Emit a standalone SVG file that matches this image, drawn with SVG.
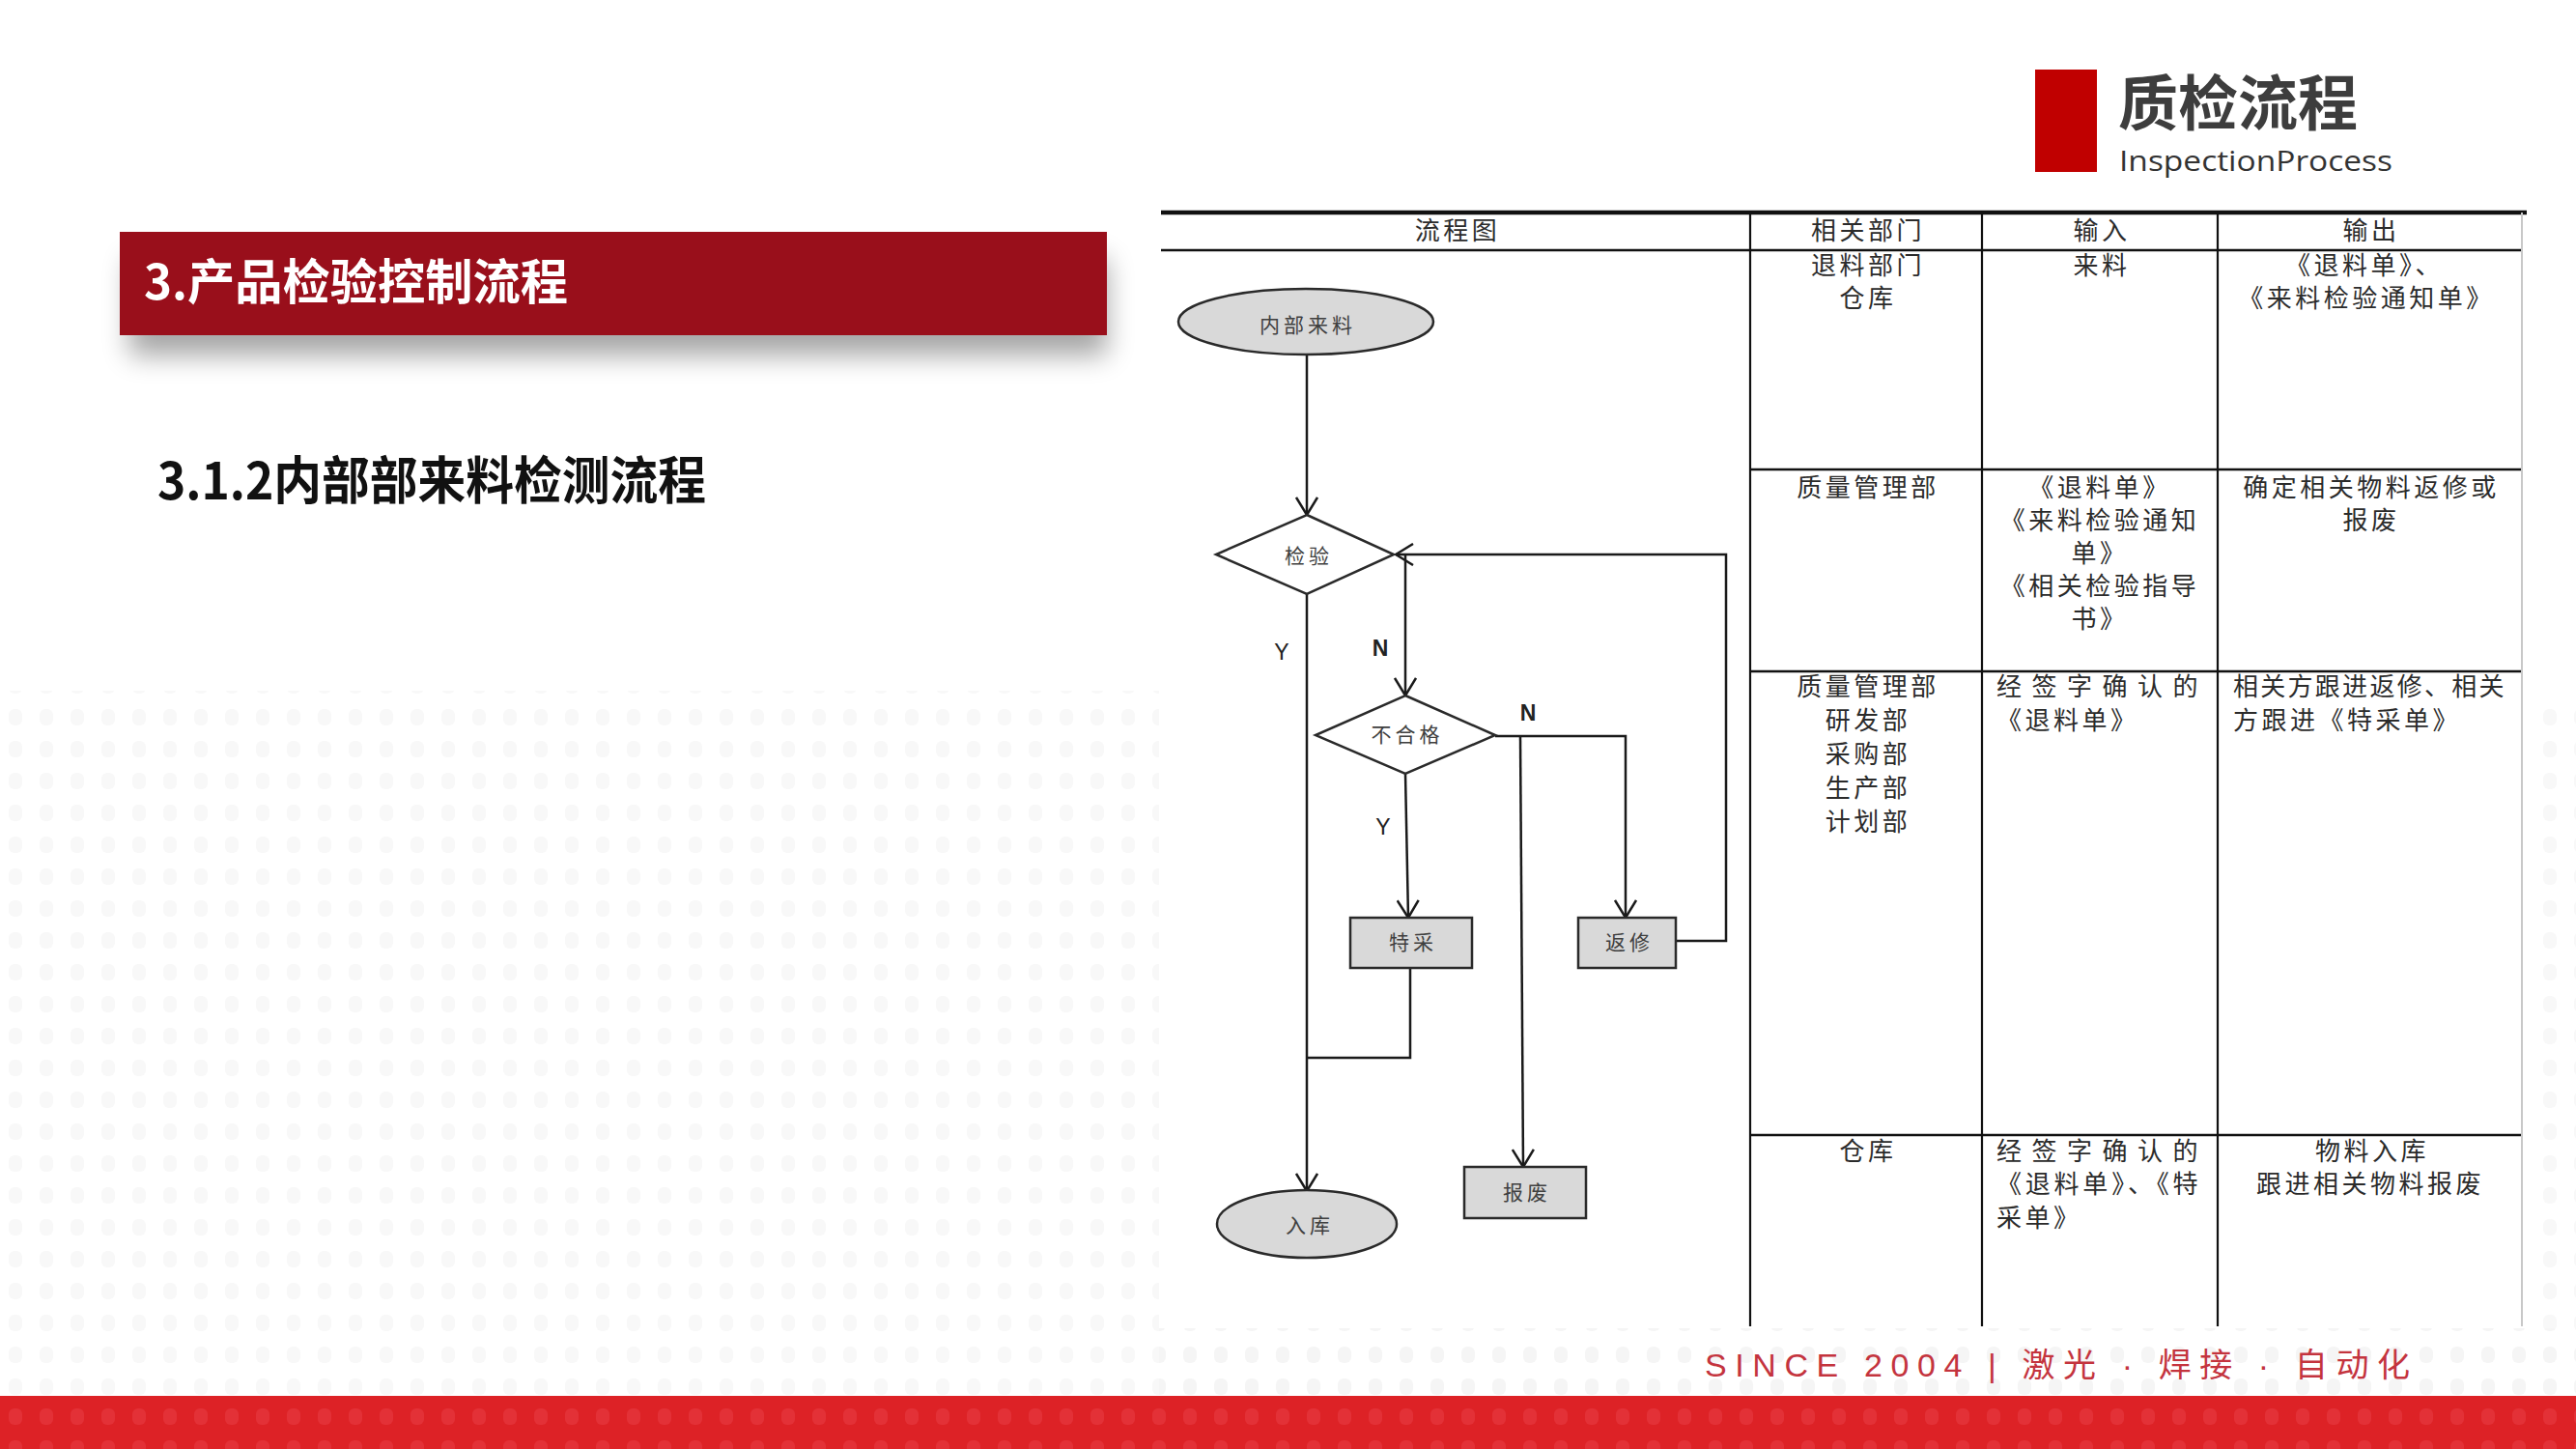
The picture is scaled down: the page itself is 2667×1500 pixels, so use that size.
<svg xmlns="http://www.w3.org/2000/svg" width="2667" height="1500" viewBox="0 0 2667 1500">
<style>
.tb{font-family:"Noto Sans CJK SC","Noto Sans",sans-serif;font-size:26px;fill:#2b2b2b;letter-spacing:3.5px}
.nd{font-family:"Noto Sans CJK SC","Noto Sans",sans-serif;font-size:21px;fill:#404040;letter-spacing:4px;text-anchor:middle}
.c{text-anchor:middle}
.gl{stroke:#111;stroke-width:2.5}
.con{stroke:#1a1a1a;stroke-width:2.5;fill:none}
.shape{stroke:#2a2a2a;stroke-width:2.5}
.lbl{font-family:"Liberation Sans",Arial,sans-serif;font-size:23px;fill:#222;text-anchor:middle}
</style>
<defs>
<marker id="arr" viewBox="0 0 20 24" refX="19" refY="12" markerWidth="20" markerHeight="24" markerUnits="userSpaceOnUse" orient="auto">
<path d="M1,1 L19,12 L1,23" fill="none" stroke="#1a1a1a" stroke-width="2.5"/>
</marker>
<pattern id="dots" x="0" y="0" width="32" height="33" patternUnits="userSpaceOnUse">
<rect x="9" y="8" width="14" height="17" rx="6" fill="#f3f3f3"/>
</pattern>
<pattern id="rdots" x="0" y="0" width="32" height="33" patternUnits="userSpaceOnUse">
<rect x="9" y="6" width="14" height="17" rx="6" fill="#e84048"/>
</pattern>
<filter id="sh" x="-10%" y="-30%" width="120%" height="180%">
<feGaussianBlur stdDeviation="14"/>
</filter>
</defs>
<rect width="2667" height="1500" fill="#ffffff"/>
<g id="background">
<rect x="0" y="715" width="1200" height="730" fill="url(#dots)" opacity="0.6"/>
<rect x="1200" y="1375" width="1467" height="70" fill="url(#dots)" opacity="0.8"/>
<rect x="2625" y="720" width="42" height="655" fill="url(#dots)" opacity="0.6"/>
<rect x="0" y="1445" width="2667" height="55" fill="#dd2226"/>
<rect x="0" y="1445" width="2667" height="55" fill="url(#rdots)" opacity="0.5"/>
<text x="1765" y="1425" font-family="'Liberation Sans','Noto Sans CJK SC',sans-serif" font-size="34" fill="#c4343e" textLength="730" lengthAdjust="spacing">SINCE 2004 | 激光 · 焊接 · 自动化</text>
</g>
<g id="page-title">
<rect x="2107" y="72" width="64" height="106" fill="#c00000"/>
<text x="2193" y="130" font-family="'Noto Sans CJK SC',sans-serif" font-size="62" font-weight="bold" fill="#3d3d3d">质检流程</text>
<text x="2194" y="177" font-family="'Open Sans','Noto Sans',sans-serif" font-size="30" fill="#333" textLength="283" lengthAdjust="spacingAndGlyphs">InspectionProcess</text>
</g>
<g id="section-banner">
<rect x="134" y="268" width="1012" height="100" fill="#000" opacity="0.35" filter="url(#sh)"/>
<rect x="124" y="240" width="1022" height="107" fill="#990f1b"/>
<text x="149" y="310" font-family="'Noto Sans CJK SC',sans-serif" font-size="50" font-weight="bold" fill="#ffffff" textLength="439" lengthAdjust="spacingAndGlyphs">3.产品检验控制流程</text>
</g>
<g id="subtitle">
<text x="163" y="517" font-family="'Noto Sans CJK SC',sans-serif" font-size="53" font-weight="bold" fill="#111" textLength="568" lengthAdjust="spacingAndGlyphs">3.1.2内部部来料检测流程</text>
</g>
<g id="table">
<rect x="1202" y="220" width="1414" height="1153" fill="#fff"/>
<line x1="1202" y1="220" x2="2616" y2="220" stroke="#111" stroke-width="4.5"/>
<line x1="1202" y1="259" x2="2611" y2="259" class="gl"/>
<line x1="1812" y1="486" x2="2611" y2="486" class="gl"/>
<line x1="1812" y1="695" x2="2611" y2="695" class="gl"/>
<line x1="1812" y1="1175" x2="2611" y2="1175" class="gl"/>
<line x1="1812" y1="220" x2="1812" y2="1373" stroke="#111" stroke-width="2.2"/>
<line x1="2052" y1="220" x2="2052" y2="1373" stroke="#111" stroke-width="2.2"/>
<line x1="2296" y1="220" x2="2296" y2="1373" stroke="#111" stroke-width="2.2"/>
<line x1="2611" y1="220" x2="2611" y2="1373" stroke="#c8c8c8" stroke-width="2"/>
<text class="tb c" x="1509" y="248">流程图</text>
<text class="tb c" x="1934" y="248">相关部门</text>
<text class="tb c" x="2176" y="248">输入</text>
<text class="tb c" x="2455" y="248">输出</text>
<text class="tb c" x="1934" y="284">退料部门</text>
<text class="tb c" x="1934" y="318">仓库</text>
<text class="tb c" x="2176" y="284">来料</text>
<text class="tb c" x="2448" y="284">《退料单》、</text>
<text class="tb c" x="2450" y="318">《来料检验通知单》</text>
<text class="tb c" x="1934" y="514">质量管理部</text>
<text class="tb c" x="2174" y="514">《退料单》</text>
<text class="tb c" x="2174" y="548">《来料检验通知</text>
<text class="tb c" x="2174" y="582">单》</text>
<text class="tb c" x="2174" y="616">《相关检验指导</text>
<text class="tb c" x="2174" y="650">书》</text>
<text class="tb c" x="2455" y="514">确定相关物料返修或</text>
<text class="tb c" x="2455" y="548">报废</text>
<text class="tb c" x="1934" y="720">质量管理部</text>
<text class="tb c" x="1934" y="755">研发部</text>
<text class="tb c" x="1934" y="790">采购部</text>
<text class="tb c" x="1934" y="825">生产部</text>
<text class="tb c" x="1934" y="860">计划部</text>
<text class="tb" x="2067" y="720" textLength="212" lengthAdjust="spacing">经签字确认的</text>
<text class="tb" x="2067" y="755">《退料单》</text>
<text class="tb" x="2312" y="720" textLength="284" lengthAdjust="spacing">相关方跟进返修、相关</text>
<text class="tb" x="2312" y="755">方跟进《特采单》</text>
<text class="tb c" x="1934" y="1201">仓库</text>
<text class="tb" x="2067" y="1201" textLength="212" lengthAdjust="spacing">经签字确认的</text>
<text class="tb" x="2067" y="1235" textLength="212" lengthAdjust="spacing">《退料单》、《特</text>
<text class="tb" x="2067" y="1270">采单》</text>
<text class="tb c" x="2456" y="1201">物料入库</text>
<text class="tb c" x="2454" y="1235">跟进相关物料报废</text>
</g>
<g id="connectors">
<line class="con" x1="1353" y1="367" x2="1353" y2="533" marker-end="url(#arr)"/>
<line class="con" x1="1353" y1="615" x2="1353" y2="1233" marker-end="url(#arr)"/>
<polyline class="con" points="1735,974 1787,974 1787,574 1445,574" marker-end="url(#arr)"/>
<line class="con" x1="1455" y1="574" x2="1455" y2="720" marker-end="url(#arr)"/>
<line class="con" x1="1455" y1="801" x2="1458" y2="950" marker-end="url(#arr)"/>
<polyline class="con" points="1460,1002 1460,1095 1353,1095"/>
<polyline class="con" points="1548,762 1683,762 1683,950" marker-end="url(#arr)"/>
<line class="con" x1="1574" y1="762" x2="1577" y2="1208" marker-end="url(#arr)"/>
<text class="lbl" x="1327" y="683">Y</text>
<text class="lbl" x="1429" y="679" font-weight="bold">N</text>
<text class="lbl" x="1582" y="746" font-weight="bold">N</text>
<text class="lbl" x="1432" y="864">Y</text>
</g>
<g id="node-start">
<ellipse class="shape" cx="1352" cy="333" rx="132" ry="34" fill="#d9d9d9"/>
<text class="nd" x="1354" y="344">内部来料</text>
</g>
<g id="node-inspect">
<polygon class="shape" points="1353,533 1443,574 1353,615 1259,574" fill="#ffffff"/>
<text class="nd" x="1355" y="583">检验</text>
</g>
<g id="node-fail">
<polygon class="shape" points="1455,720 1548,761 1455,801 1362,761" fill="#ffffff"/>
<text class="nd" x="1457" y="768">不合格</text>
</g>
<g id="node-special">
<rect class="shape" x="1398" y="950" width="126" height="52" fill="#d9d9d9"/>
<text class="nd" x="1463" y="983">特采</text>
</g>
<g id="node-rework">
<rect class="shape" x="1634" y="950" width="101" height="52" fill="#d9d9d9"/>
<text class="nd" x="1687" y="983">返修</text>
</g>
<g id="node-scrap">
<rect class="shape" x="1516" y="1208" width="126" height="53" fill="#d9d9d9"/>
<text class="nd" x="1581" y="1242">报废</text>
</g>
<g id="node-stock">
<ellipse class="shape" cx="1353" cy="1267" rx="93" ry="35" fill="#d9d9d9"/>
<text class="nd" x="1356" y="1276">入库</text>
</g>
</svg>
